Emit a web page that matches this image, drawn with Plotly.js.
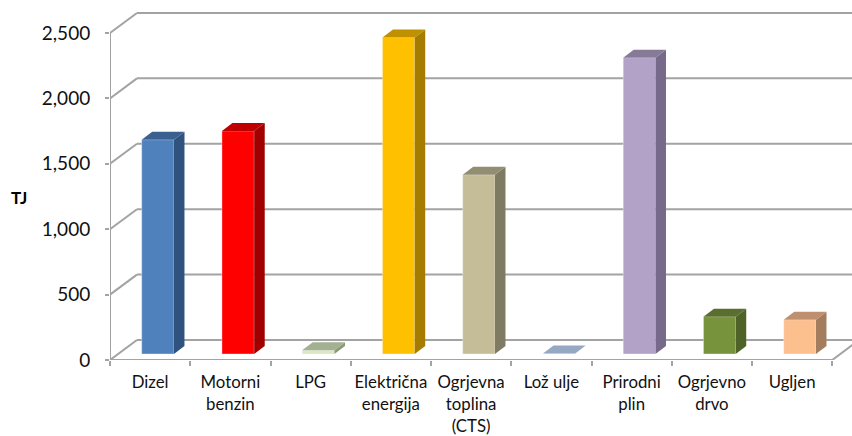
<!DOCTYPE html>
<html><head><meta charset="utf-8">
<script src="https://cdn.plot.ly/plotly-3.0.1.min.js"></script>
<style>html,body{margin:0;padding:0;background:#fff}</style>
</head><body><div id="chart" style="width:852px;height:436px"></div>
<script>
const categories = ['Dizel','Motorni<br>benzin','LPG','Električna<br>energija','Ogrjevna<br>toplina<br>(CTS)','Lož ulje','Prirodni<br>plin','Ogrjevno<br>drvo','Ugljen'];
const valuesTJ = [1638,1705,28,2420,1370,3,2265,285,262];
const frontColors = ['#4f81bd','#ff0000','#dbe6c3','#ffc000','#c4bd97','#c6d9f1','#b2a2c7','#77933c','#fcc08f'];
const sideColors = ['#30527f','#a00000','#8a9a77','#a67c00','#7f7a62','#8397b3','#77698a','#4f6228','#a37d5d'];
const topColors = ['#3a6090','#bf0000','#a3b091','#bf9000','#938e71','#95a8c4','#867a96','#5a6e2d','#bf9070'];
const yTicks = [0,500,1000,1500,2000,2500];
const yTickText = ['0','500','1,000','1,500','2,000','2,500'];

const gridColor = '#a3a3a3';
const catCount = categories.length;
const wallDx = 0.336, wallDy = 153;      // depth of the 3-D box, in axis units
const barDx = 0.131, barDy = 61;         // depth of a column
const barBase = 46, barShift = 0.596, barWidth = 0.402;
const xMax = 9.246, yMax = 2691;

const traces = [];
traces.push({type:'bar', x:categories.map((c,i)=>i+barShift), y:valuesTJ, base:barBase, width:barWidth,
  marker:{color:frontColors, line:{color:'rgba(255,255,255,0.35)', width:1}}, hoverinfo:'skip', showlegend:false});

valuesTJ.forEach((v,i)=>{
  const l = i+barShift-barWidth/2, r = l+barWidth, t = barBase+v, b = barBase;
  traces.push({type:'scatter',mode:'lines',x:[r,r+barDx,r+barDx,r,r],y:[b,b+barDy,t+barDy,t,b],
    fill:'toself',fillcolor:sideColors[i],line:{width:0},hoverinfo:'skip',showlegend:false});
  traces.push({type:'scatter',mode:'lines',x:[l,r,r+barDx,l+barDx,l],y:[t,t,t+barDy,t+barDy,t],
    fill:'toself',fillcolor:topColors[i],line:{width:0},hoverinfo:'skip',showlegend:false});
});

// front frame: value axis, floor edge and the slanted wall lines
const fx = [0,0,null,0,catCount,catCount+wallDx,null], fy = [0,2500,null,0,0,wallDy,null];
yTicks.forEach(t=>{fx.push(0,wallDx,null);fy.push(t,t+wallDy,null);});
traces.push({type:'scatter',mode:'lines',x:fx,y:fy,cliponaxis:false,line:{color:gridColor,width:2},hoverinfo:'skip',showlegend:false});

const shapes = yTicks.map(t=>({type:'line',layer:'below',xref:'x',yref:'y',x0:wallDx,x1:xMax,y0:t+wallDy,y1:t+wallDy,
  line:{color:gridColor,width:2}}));

const wrapLabel = s => s.split('<br>').map(p=>`<span style="font-size:16.8px">${p}</span>`).join('<br>');

const layout = {
  width:852,height:436,autosize:false,
  margin:{l:110,r:0,t:8,b:76,pad:0},
  paper_bgcolor:'#fff',plot_bgcolor:'rgba(0,0,0,0)',
  font:{family:'Lato, "Open Sans", sans-serif',color:'#000'},
  showlegend:false,bargap:0,shapes,
  xaxis:{range:[0,xMax],tickmode:'array',tickvals:categories.map((c,i)=>i+0.5),ticktext:categories.map(wrapLabel),
    ticks:'',tickangle:0,ticklabelstandoff:10,tickfont:{size:17,color:'#111'},showgrid:false,zeroline:false,showline:false,fixedrange:true,
    minor:{ticks:'outside',tickmode:'array',tickvals:Array.from({length:catCount+1},(_,i)=>i),ticklen:5,tickwidth:2,tickcolor:gridColor,showgrid:false}},
  yaxis:{range:[0,yMax],tickmode:'array',tickvals:yTicks,ticktext:yTickText,ticks:'outside',ticklen:4,tickwidth:2,tickcolor:gridColor,
    ticklabelstandoff:11,tickfont:{size:19,color:'#111'},showgrid:false,zeroline:false,showline:false,fixedrange:true},
  annotations:[{text:'<b>TJ</b>',xref:'paper',yref:'paper',x:-0.1226,y:0.463,xanchor:'center',yanchor:'middle',showarrow:false,font:{size:17,color:'#000'}}]
};
Plotly.newPlot('chart',traces,layout,{displayModeBar:false,staticPlot:true});
</script></body></html>
